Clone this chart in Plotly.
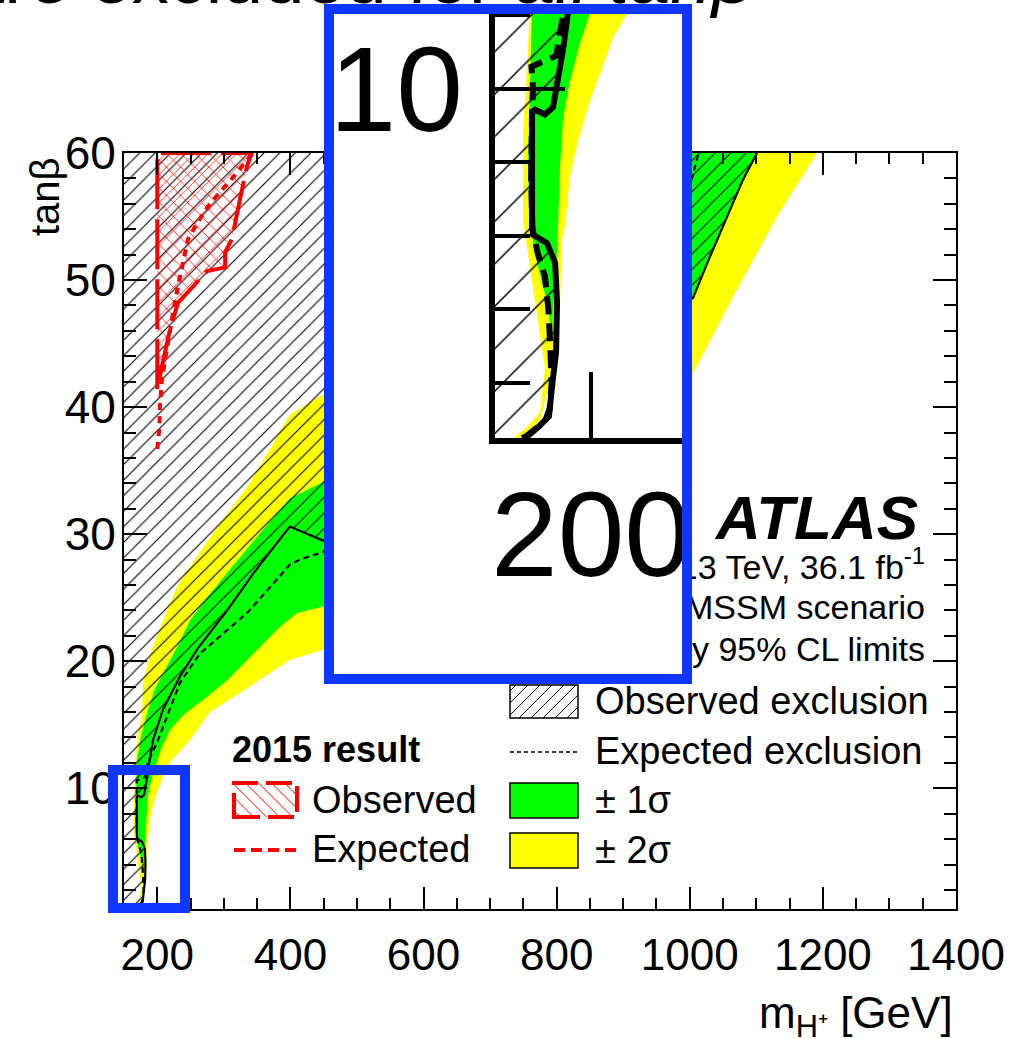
import plotly.graph_objects as go

W, H = 1028, 1039

# ---------------- data (m_H+ in GeV, tan beta) ----------------
# observed exclusion contour (bottom -> top); 450-1000 GeV hidden behind the zoom box (estimated)
obs_mass = [164, 166.7, 172.4, 178.1, 179.7, 181.8, 182.3, 181.3, 177, 169.8, 169.3, 169.3, 170.8, 176,
            180.2, 182.3, 185.4, 188, 193.6, 208.6, 234, 262, 305, 344, 399, 449, 500, 600, 700, 800,
            900, 1005, 1030, 1056, 1080, 1101]
obs_tanb = [0.5, 0.54, 0.79, 1.09, 1.9, 2.83, 4.2, 5.27, 5.8, 6.03, 6.3, 9.35, 9.43, 9.3,
            9.5, 10.05, 11.06, 12.07, 13.8, 16.2, 18.8, 21.1, 24.0, 26.9, 30.6, 29.5, 30.6, 34.0, 37.5, 41.0,
            44.7, 48.6, 51.8, 54.9, 57.9, 60.0]

# expected exclusion contour
exp_mass = [165, 170, 176, 178.5, 179.5, 178.8, 177.8, 176, 172.4, 169.5, 168.8, 169.3, 169.8, 169, 177,
            182, 183.3, 185.5, 199.6, 214.6, 234, 264, 305, 335, 369, 399, 414, 449, 500, 600, 700, 800,
            900, 1000, 1015]
exp_tanb = [0.5, 0.7, 0.95, 1.3, 2.0, 3.0, 4.0, 4.9, 5.5, 6.2, 7.5, 9.4, 10.0, 10.6, 10.8,
            10.9, 11.4, 12.0, 13.6, 15.6, 18.3, 20.6, 22.45, 23.8, 25.8, 27.6, 28.0, 28.6, 30.2, 34.0, 38.5, 43.5,
            49.5, 57.4, 60.3]

# +-1 sigma band edges
s1_up_mass = [179.7, 177, 170.8, 168.2, 167.2, 168.2, 169.2, 175, 185, 196, 208, 229.6, 249, 274.7, 299,
              324, 350, 374, 399, 449, 500, 600, 700, 800, 900, 990]
s1_up_tanb = [3.2, 4.2, 5.5, 6.4, 7.9, 9.7, 12.07, 14.0, 16.0, 17.8, 19.0, 21.1, 23.2, 25.0, 26.6,
              28.2, 29.8, 31.3, 32.8, 34.1, 36.3, 40.0, 44.5, 49.5, 55.0, 60.5]
s1_lo_mass = [179.7, 180.2, 182.3, 182.8, 183.9, 185.4, 189, 194.3, 199.5, 205, 219, 240, 270, 305, 324,
              354, 384, 410, 449, 500, 600, 700, 800, 900, 1005, 1030, 1056, 1080, 1104]
s1_lo_tanb = [3.2, 4.0, 5.5, 6.4, 7.9, 9.2, 10.2, 11.25, 12.07, 13.0, 14.6, 15.8, 17.0, 18.5, 19.5,
              21.1, 22.7, 23.8, 24.3, 26.0, 29.6, 33.5, 38.0, 43.8, 48.5, 51.7, 54.8, 57.8, 60.5]

# +-2 sigma band edges
s2_up_mass = [160, 163, 166.7, 173.4, 176, 173.4, 168.2, 164.6, 164.6, 166.7, 168.2, 169.5, 177, 178.5,
              191, 209, 230, 264, 299, 336, 369, 399, 449, 500, 600, 700, 800, 880]
s2_up_tanb = [0.5, 0.65, 0.8, 1.2, 2.4, 3.3, 5.1, 6.4, 8.8, 10.6, 12.07, 13.9, 15.7, 18.4,
              20.8, 23.3, 25.9, 28.6, 31.2, 33.8, 36.7, 39.4, 41.0, 43.0, 47.5, 52.0, 56.5, 60.5]
s2_lo_mass = [166, 173.4, 180.2, 183, 184.9, 186.5, 189, 192.7, 199.5, 206, 211.5, 219, 249, 279, 324,
              354, 399, 449, 500, 600, 700, 800, 900, 1005, 1065, 1131, 1191, 1200]
s2_lo_tanb = [0.5, 1.0, 2.3, 2.8, 5.9, 6.3, 7.6, 8.5, 9.7, 10.6, 11.4, 12.07, 13.8, 16.0, 17.5,
              18.5, 20.1, 20.9, 22.5, 25.5, 29.0, 32.8, 37.5, 42.7, 48.7, 55.0, 60.0, 61.0]

# 2015 result
r15_obs_mass = [200, 200, 342, 335, 324, 312, 302, 302, 275, 264, 231, 219, 214, 207, 200]
r15_obs_tanb = [41.4, 60, 60, 59, 56.3, 53.2, 52.2, 51, 50.7, 50.1, 48.2, 46.1, 45, 43.2, 41.4]
r15_exp_mass = [342, 314, 279, 260, 246, 239, 231, 224, 216, 212, 207, 204, 203, 200]
r15_exp_tanb = [59.9, 58.1, 56, 54.5, 53.2, 51.6, 49.5, 47.5, 45.3, 43.8, 42.2, 40.1, 38.3, 36.7]

x_tick_step, x_minor_step = 200, 50
y_tick_step, y_minor_step = 10, 2

# ---------------- geometry (pixels) ----------------
MAIN_L, MAIN_R, MAIN_T, MAIN_B = 124, 956, 153, 909
XMIN, XMAX, YMIN, YMAX = 150, 1400, 0.5, 60
BOX = (329, 9, 687, 679)
SMALL_BOX = (113, 770, 185, 908)
INSET = (495, 9, 687, 438)
INSET_XR = [150, 250]
INSET_YR = [0.5, 12.17]
BLUE = '#0F37FF'
FONT = 'Liberation Sans, Arial, Helvetica, sans-serif'


def fx(px):
    return px / W


def fy(py):
    return 1 - py / H


def px2x(px):
    return XMIN + (px - MAIN_L) * (XMAX - XMIN) / (MAIN_R - MAIN_L)


def py2y(py):
    return YMIN + (MAIN_B - py) * (YMAX - YMIN) / (MAIN_B - MAIN_T)


def band(um, ut, lm, lt):
    return um + lm[::-1], ut + lt[::-1]


fig = go.Figure()


def add_contours(xa, ya, lw, dash, hatch_size, hatch_sol):
    common = dict(xaxis=xa, yaxis=ya, hoverinfo='skip', showlegend=False)
    bx, by = band(s2_up_mass, s2_up_tanb, s2_lo_mass, s2_lo_tanb)
    fig.add_trace(go.Scatter(x=bx, y=by, fill='toself', fillcolor='#FFFF00', mode='lines',
                             line=dict(width=0, color='#FFFF00'), **common))
    bx, by = band(s1_up_mass, s1_up_tanb, s1_lo_mass, s1_lo_tanb)
    fig.add_trace(go.Scatter(x=bx, y=by, fill='toself', fillcolor='#00FF00', mode='lines',
                             line=dict(width=0, color='#00FF00'), **common))
    hx = [XMIN] + obs_mass + [XMIN]
    hy = [YMIN] + obs_tanb + [YMAX]
    fig.add_trace(go.Scatter(x=hx, y=hy, fill='toself', fillcolor='rgba(0,0,0,0)', mode='lines',
                             line=dict(width=0, color='rgba(0,0,0,0)'),
                             fillpattern=dict(shape='/', fgcolor='black', bgcolor='rgba(0,0,0,0)',
                                              size=hatch_size, solidity=hatch_sol, fillmode='replace'),
                             **common))
    fig.add_trace(go.Scatter(x=exp_mass, y=exp_tanb, mode='lines',
                             line=dict(color='black', width=lw, dash=dash), **common))
    fig.add_trace(go.Scatter(x=obs_mass, y=obs_tanb, mode='lines',
                             line=dict(color='black', width=lw), **common))


# main plot
add_contours('x', 'y', 2.2, '6px,4px', 11, 0.1)
fig.add_trace(go.Scatter(x=r15_obs_mass, y=r15_obs_tanb, fill='toself', fillcolor='rgba(0,0,0,0)',
                         mode='lines', line=dict(color='#FF0000', width=4, dash='50px,10px'),
                         fillpattern=dict(shape='x', fgcolor='#FF0000', bgcolor='rgba(0,0,0,0)',
                                          size=10, solidity=0.15, fillmode='replace'),
                         xaxis='x', yaxis='y', hoverinfo='skip', showlegend=False))
fig.add_trace(go.Scatter(x=r15_exp_mass, y=r15_exp_tanb, mode='lines',
                         line=dict(color='#FF0000', width=4, dash='7px,6px'),
                         xaxis='x', yaxis='y', hoverinfo='skip', showlegend=False))

# ATLAS info lines (drawn in the main panel so the zoom box covers their left part)
info_lines = ['√s = 13 TeV, 36.1 fb<sup>-1</sup>', 'hMSSM scenario', 'Asymptotically 95% CL limits']
fig.add_trace(go.Scatter(x=[px2x(925)] * 3, y=[py2y(570), py2y(610), py2y(652)], mode='text',
                         text=info_lines, textposition='middle left',
                         textfont=dict(size=34, color='black', family=FONT),
                         xaxis='x', yaxis='y', hoverinfo='skip', showlegend=False))

# white cover of the zoom box (subplot 2)
fig.add_trace(go.Scatter(x=[None], y=[None], xaxis='x2', yaxis='y2', mode='lines',
                         hoverinfo='skip', showlegend=False))

# zoomed inset (subplot 3)
add_contours('x3', 'y3', 6, '18px,9px', 30, 0.05)

axis_base = dict(showgrid=False, zeroline=False, showline=True, linecolor='black',
                 ticks='inside', tickcolor='black', color='black')

fig.update_layout(
    width=W, height=H, template='none',
    margin=dict(l=0, r=0, t=0, b=0),
    paper_bgcolor='white', plot_bgcolor='white',
    font=dict(family=FONT, color='black'),
    showlegend=False,
    xaxis=dict(axis_base, domain=[fx(MAIN_L), fx(MAIN_R)], range=[XMIN, XMAX], anchor='y',
               linewidth=2, mirror='ticks', ticklen=22, tickwidth=2, tick0=0, dtick=x_tick_step,
               minor=dict(dtick=x_minor_step, tick0=0, ticklen=11, tickwidth=2, ticks='inside',
                          tickcolor='black'),
               tickfont=dict(size=44), ticklabelstandoff=6),
    yaxis=dict(axis_base, domain=[fy(MAIN_B), fy(MAIN_T)], range=[YMIN, YMAX], anchor='x',
               linewidth=2, mirror='ticks', ticklen=23, tickwidth=2, tick0=0, dtick=y_tick_step,
               minor=dict(dtick=y_minor_step, tick0=0, ticklen=12, tickwidth=2, ticks='inside',
                          tickcolor='black'),
               tickfont=dict(size=46), ticklabelstandoff=-3),
    xaxis2=dict(domain=[fx(BOX[0]), fx(BOX[2])], range=[0, 1], anchor='y2', visible=False),
    yaxis2=dict(domain=[fy(BOX[3]), fy(BOX[1])], range=[0, 1], anchor='x2', visible=False),
    xaxis3=dict(axis_base, domain=[fx(INSET[0]), fx(INSET[2])], range=INSET_XR, anchor='y3',
                linewidth=6, ticklen=66, tickwidth=4, tick0=0, dtick=x_tick_step,
                tickfont=dict(size=120), ticklabelstandoff=-12),
    yaxis3=dict(axis_base, domain=[fy(INSET[3]), fy(INSET[1])], range=INSET_YR, anchor='x3',
                linewidth=6, ticklen=70, tickwidth=4, tick0=0, dtick=y_tick_step,
                minor=dict(dtick=y_minor_step, tick0=0, ticklen=35, tickwidth=4, ticks='inside',
                           tickcolor='black'),
                tickfont=dict(size=120), ticklabelstandoff=2),
)


# ---------------- legend & decorations (pixel geometry) ----------------
def hatch_path(x0, y0, x1, y1, step, direction):
    segs = []
    if direction == '/':
        c = x0 + y0 + step / 2
        while c < x1 + y1:
            xa, xb = max(x0, c - y1), min(x1, c - y0)
            if xb > xa:
                segs.append(f'M{fx(xa):.5f},{fy(c - xa):.5f}L{fx(xb):.5f},{fy(c - xb):.5f}')
            c += step
    else:
        c = x0 - y1 + step / 2
        while c < x1 - y0:
            xa, xb = max(x0, c + y0), min(x1, c + y1)
            if xb > xa:
                segs.append(f'M{fx(xa):.5f},{fy(xa - c):.5f}L{fx(xb):.5f},{fy(xb - c):.5f}')
            c += step
    return ''.join(segs)


shapes = []


def rect(x0, y0, x1, y1, **kw):
    shapes.append(dict(type='rect', xref='paper', yref='paper', x0=fx(x0), x1=fx(x1),
                       y0=fy(y1), y1=fy(y0), **kw))


def hline(x0, x1, y, **kw):
    shapes.append(dict(type='line', xref='paper', yref='paper', x0=fx(x0), x1=fx(x1),
                       y0=fy(y), y1=fy(y), **kw))


# right legend
shapes.append(dict(type='path', xref='paper', yref='paper', path=hatch_path(510, 685, 578, 718, 12, '/'),
                   line=dict(color='black', width=1)))
rect(510, 685, 578, 718, line=dict(color='black', width=1.5))
hline(510, 578, 752, line=dict(color='black', width=1.5, dash='4px,3px'))
rect(510, 783, 578, 818, fillcolor='#00FF00', line=dict(color='black', width=1.5))
rect(510, 833, 578, 868, fillcolor='#FFFF00', line=dict(color='black', width=1.5))
# 2015 legend
shapes.append(dict(type='path', xref='paper', yref='paper', path=hatch_path(234, 783, 297, 817, 13, '\\'),
                   line=dict(color='#FF0000', width=1)))
rect(234, 783, 297, 817, line=dict(color='#FF0000', width=4, dash='26px,8px'))
hline(234, 297, 850, line=dict(color='#FF0000', width=4, dash='11px,6px'))
# blue zoom boxes
rect(*BOX, line=dict(color=BLUE, width=10))
rect(*SMALL_BOX, line=dict(color=BLUE, width=10))

anns = []


def text(s, px, py, size, xanchor='left', yanchor='middle', **kw):
    anns.append(dict(text=s, x=fx(px), y=fy(py), xref='paper', yref='paper', showarrow=False,
                     xanchor=xanchor, yanchor=yanchor, font=dict(size=size, color='black', family=FONT), **kw))


text('Observed exclusion', 593, 701, 38)
text('Expected exclusion', 593, 751, 38)
text('± 1σ', 593, 800, 38)
text('± 2σ', 593, 850, 38)
text('<b>2015 result</b>', 230, 749, 36)
text('Observed', 310, 800, 38)
text('Expected', 310, 849, 38)
text('<b><i>ATLAS</i></b>', 920, 517, 62, xanchor='right')
text('m<sub>H⁺</sub> [GeV]', 955, 1016, 44, xanchor='right')
text('tanβ', 45, 197, 40, xanchor='center', textangle=-90)
text('are excluded for <i>all tanβ</i>', 756, 21, 74, xanchor='right', yanchor='bottom')

fig.update_layout(shapes=shapes, annotations=anns)
fig.write_html('out.html', config={'displayModeBar': False},
               post_script="document.body.style.margin='0';")
